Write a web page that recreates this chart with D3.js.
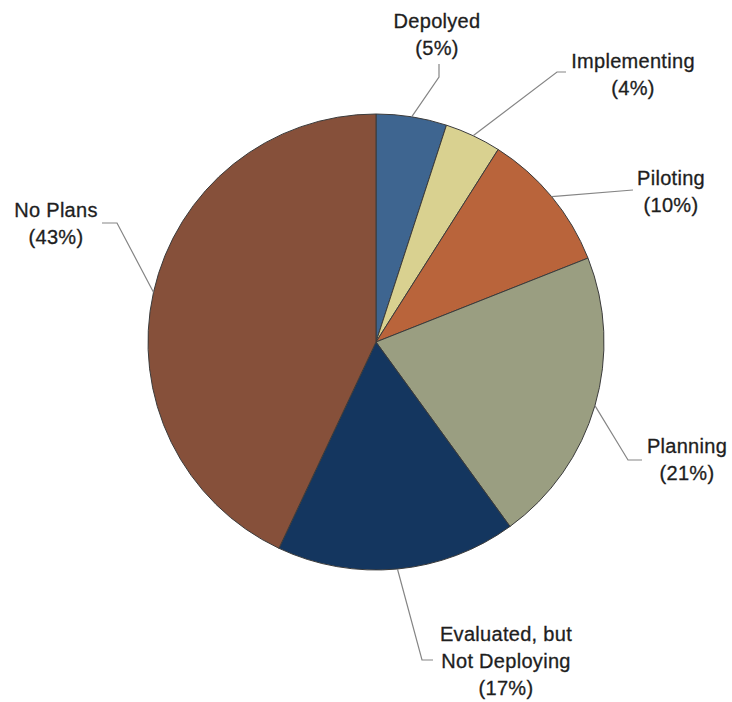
<!DOCTYPE html>
<html>
<head>
<meta charset="utf-8">
<script src="https://cdn.jsdelivr.net/npm/d3@7"></script>
<style>
  body { margin: 0; background: #fff; }
  svg { display: block; }
  .lbl { font-family: "Liberation Sans", Arial, sans-serif; font-size: 20px; letter-spacing: 0.3px; fill: #1e1e1e; stroke: #1e1e1e; stroke-width: 0.3px; }
</style>
</head>
<body>
<div id="chart"></div>
<script>
// data
const categories = ["Depolyed", "Implementing", "Piloting", "Planning", "Evaluated, but\nNot Deploying", "No Plans"];
const values = [5, 4, 10, 21, 17, 43];
const colors = ["#3e6590", "#d9d190", "#b9643b", "#9a9e81", "#14365f", "#86503a"];

// label layout: text centre + first baseline, leader elbow and end
const labelPos = [
    { x: 437, y: 28, elbow: [439, 77], end: [439, 64] },
    { x: 633, y: 68, elbow: [557, 72], end: [566, 72] },
    { x: 671, y: 185, elbow: [633, 190], end: [633, 190] },
    { x: 687, y: 453, elbow: [628, 460], end: [642, 460] },
    { x: 506, y: 641, elbow: [422, 660], end: [433, 660] },
    { x: 56, y: 217, elbow: [117, 223], end: [102, 223] }
];

const width = 732, height = 702;
const cx = 376, cy = 342, radius = 228;
const lineH = 27;

const svg = d3.select("#chart")
    .append("svg")
    .attr("width", width)
    .attr("height", height);

const pie = d3.pie().sort(null).value(d => d.value);
const arc = d3.arc().innerRadius(0).outerRadius(radius);

const data = categories.map((c, i) => ({ name: c, value: values[i], i: i }));
const arcs = pie(data);

const g = svg.append("g")
    .attr("transform", `translate(${cx},${cy})`);

g.selectAll("path.slice")
    .data(arcs)
    .enter()
    .append("path")
    .attr("class", "slice")
    .attr("d", arc)
    .attr("fill", d => colors[d.data.i])
    .attr("stroke", "#3b3b3b")
    .attr("stroke-width", 1);

// leader lines start on the rim at each slice's mid angle
arcs.forEach(d => {
    const mid = (d.startAngle + d.endAngle) / 2;
    const sx = cx + radius * Math.sin(mid);
    const sy = cy - radius * Math.cos(mid);
    const p = labelPos[d.data.i];
    svg.append("polyline")
        .attr("points", [[sx, sy], p.elbow, p.end].map(q => q.join(",")).join(" "))
        .attr("fill", "none")
        .attr("stroke", "#858585")
        .attr("stroke-width", 1.2);

    const lines = d.data.name.split("\n");
    lines.push("(" + d.data.value + "%)");
    const t = svg.append("text")
        .attr("class", "lbl")
        .attr("text-anchor", "middle")
        .attr("x", p.x)
        .attr("y", p.y);
    lines.forEach((ln, k) => {
        t.append("tspan")
            .attr("x", p.x)
            .attr("dy", k === 0 ? 0 : lineH)
            .text(ln);
    });
});
</script>
</body>
</html>
